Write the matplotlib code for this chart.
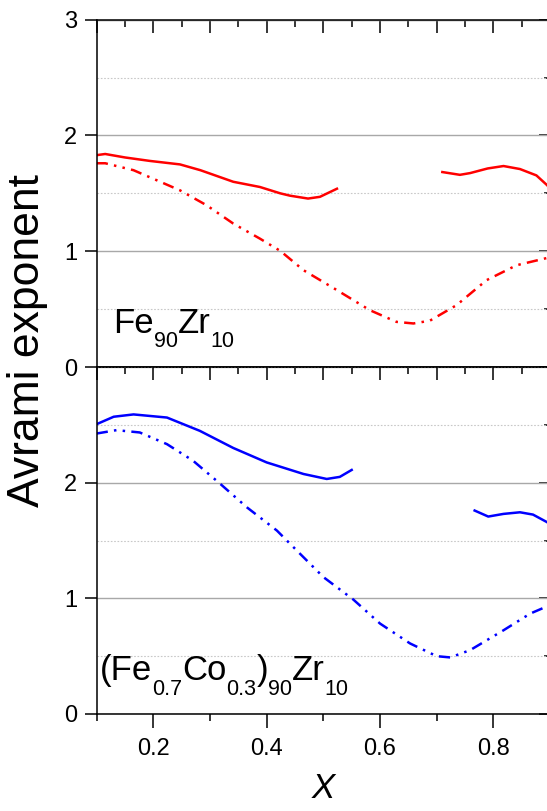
import matplotlib
matplotlib.use('Agg')
import matplotlib.pyplot as plt
from matplotlib.ticker import MultipleLocator, NullLocator
from matplotlib.transforms import offset_copy

plt.rcParams['font.family'] = ['Liberation Sans', 'DejaVu Sans']

# Fe90Zr10 (top panel)
fe_solid1_x = [0.100, 0.115, 0.150, 0.194, 0.247, 0.283, 0.341, 0.388, 0.424, 0.441, 0.473, 0.494, 0.524]
fe_solid1_y = [1.83, 1.84, 1.81, 1.78, 1.75, 1.70, 1.60, 1.555, 1.50, 1.48, 1.455, 1.47, 1.54]
fe_solid2_x = [0.710, 0.741, 0.759, 0.790, 0.818, 0.847, 0.876, 0.895, 0.900]
fe_solid2_y = [1.684, 1.66, 1.675, 1.715, 1.736, 1.71, 1.655, 1.57, 1.54]
fe_dash_x = [0.100, 0.115, 0.165, 0.247, 0.294, 0.341, 0.388, 0.424, 0.465, 0.524, 0.582,
             0.629, 0.659, 0.688, 0.735, 0.788, 0.841, 0.895, 0.900]
fe_dash_y = [1.76, 1.76, 1.70, 1.526, 1.397, 1.239, 1.109, 1.003, 0.836, 0.664, 0.491,
             0.39, 0.376, 0.40, 0.534, 0.75, 0.879, 0.942, 0.95]

# (Fe0.7Co0.3)90Zr10 (bottom panel)
co_solid1_x = [0.100, 0.130, 0.165, 0.224, 0.282, 0.341, 0.400, 0.465, 0.506, 0.529, 0.550]
co_solid1_y = [2.506, 2.57, 2.59, 2.563, 2.448, 2.30, 2.175, 2.075, 2.032, 2.05, 2.11]
co_solid2_x = [0.767, 0.791, 0.818, 0.847, 0.870, 0.895, 0.900]
co_solid2_y = [1.759, 1.707, 1.73, 1.744, 1.724, 1.658, 1.64]
co_dash_x = [0.100, 0.135, 0.176, 0.224, 0.270, 0.318, 0.365, 0.418, 0.453, 0.500, 0.553,
             0.600, 0.653, 0.700, 0.724, 0.759, 0.818, 0.865, 0.895, 0.900]
co_dash_y = [2.425, 2.454, 2.434, 2.333, 2.19, 1.99, 1.787, 1.586, 1.414, 1.184, 0.989,
             0.782, 0.61, 0.50, 0.489, 0.552, 0.724, 0.868, 0.931, 0.94]

top_label = [('Fe', False), ('90', True), ('Zr', False), ('10', True)]
bot_label = [('(Fe', False), ('0.7', True), ('Co', False), ('0.3', True), (')', False),
             ('90', True), ('Zr', False), ('10', True)]

W, H = 547, 811
fig = plt.figure(figsize=(W / 100, H / 100), dpi=100)
left = 96.7 / W
right = 550.0 / W
y_top = 1 - 19.7 / H
y_mid = 1 - 367.0 / H
y_bot = 1 - 714.0 / H
ax1 = fig.add_axes([left, y_mid, right - left, y_top - y_mid])
ax2 = fig.add_axes([left, y_bot, right - left, y_mid - y_bot])

dashdotdot = (4.5, 2.5, 1, 2.5, 1, 2.5)


def style_axis(ax, bottom_labels):
    ax.set_xlim(0.1, 0.9)
    ax.set_ylim(0, 3)
    for s in ax.spines.values():
        s.set_linewidth(1.1)
    ax.yaxis.set_major_locator(MultipleLocator(1))
    ax.yaxis.set_minor_locator(MultipleLocator(0.5))
    ax.grid(which='major', axis='y', color='#a8a8a8', lw=1.0, ls='-')
    ax.grid(which='minor', axis='y', color='#c8c8c8', lw=0.8, ls=(0, (1.5, 1.5)))
    ax.set_axisbelow(True)
    # left: only major, outward
    ax.tick_params(axis='y', which='major', direction='out', length=9, width=1.1,
                   labelsize=17, pad=5, left=True, right=False)
    ax.tick_params(axis='y', which='minor', left=False, right=False)
    # right ticks inward
    sy = ax.secondary_yaxis('right')
    sy.yaxis.set_major_locator(MultipleLocator(1))
    sy.yaxis.set_minor_locator(MultipleLocator(0.5))
    sy.tick_params(which='major', direction='in', length=8, width=1.1, labelright=False)
    sy.tick_params(which='minor', direction='in', length=4, width=1.1)
    # top ticks inward
    sx = ax.secondary_xaxis('top')
    sx.xaxis.set_major_locator(MultipleLocator(0.1))
    sx.xaxis.set_minor_locator(MultipleLocator(0.05))
    sx.tick_params(which='major', direction='in', length=9, width=1.1, labeltop=False)
    sx.tick_params(which='minor', direction='in', length=5, width=1.1)
    if bottom_labels:
        ax.xaxis.set_major_locator(MultipleLocator(0.2))
        ax.xaxis.set_minor_locator(MultipleLocator(0.1))
        ax.tick_params(axis='x', which='major', direction='out', length=10, width=1.1,
                       labelsize=17, pad=7)
        ax.tick_params(axis='x', which='minor', direction='out', length=5, width=1.1)
    else:
        ax.xaxis.set_major_locator(NullLocator())
        ax.xaxis.set_minor_locator(NullLocator())


style_axis(ax1, False)
style_axis(ax2, True)
ax1.set_yticks([0, 1, 2, 3])
ax2.set_yticks([0, 1, 2])
ax2.set_xticks([0.2, 0.4, 0.6, 0.8])
ax2.set_xticklabels(['0.2', '0.4', '0.6', '0.8'])

ax1.plot(fe_solid1_x, fe_solid1_y, color='#ff0000', lw=1.8)
ax1.plot(fe_solid2_x, fe_solid2_y, color='#ff0000', lw=1.8)
ax1.plot(fe_dash_x, fe_dash_y, color='#ff0000', lw=1.8, dashes=dashdotdot)
ax2.plot(co_solid1_x, co_solid1_y, color='#0000ff', lw=1.8)
ax2.plot(co_solid2_x, co_solid2_y, color='#0000ff', lw=1.8)
ax2.plot(co_dash_x, co_dash_y, color='#0000ff', lw=1.8, dashes=dashdotdot)

renderer = fig.canvas.get_renderer()


def chem(ax, x, y, parts, size=25, subsize=15.5, drop=14):
    dx = 0
    for s, sub in parts:
        tr = offset_copy(ax.transData, fig=fig, x=dx, y=-drop if sub else 0, units='dots')
        t = ax.text(x, y, s, transform=tr, fontsize=subsize if sub else size,
                    ha='left', va='baseline')
        dx += t.get_window_extent(renderer).width


chem(ax1, 0.129, 0.296, top_label)
chem(ax2, 0.105, 0.293, bot_label, drop=15)

fig.text(323 / W, 1 - 789 / H, 'X', fontsize=25, style='italic', ha='center', va='center')
fig.text(28 / W, 1 - 340 / H, 'Avrami exponent', fontsize=32, rotation=90,
         ha='center', va='center')

fig.savefig('out.png', dpi=100)
